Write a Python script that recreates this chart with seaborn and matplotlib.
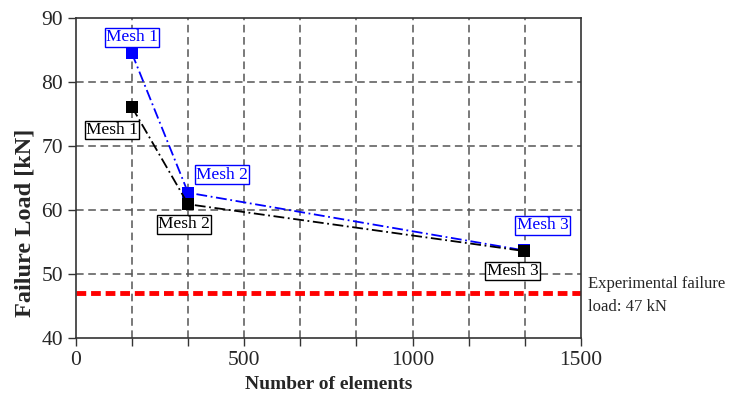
import numpy as np
import pandas as pd
import seaborn as sns
import matplotlib.pyplot as plt
from matplotlib.ticker import MultipleLocator

# data
mesh_labels = ["Mesh 1", "Mesh 2", "Mesh 3"]
n_elements = [166, 333, 1330]
load_blue = [84.5, 62.7, 53.7]
load_black = [76.1, 60.9, 53.6]
exp_load = 47

df = pd.DataFrame({
    "elements": n_elements * 2,
    "load": load_blue + load_black,
    "series": ["blue"] * 3 + ["black"] * 3,
})

sns.set_style("ticks")
plt.rcParams['font.family'] = ['Liberation Serif', 'DejaVu Serif']

fig = plt.figure(figsize=(7.38, 4.0), dpi=100)
ax = fig.add_axes([0.103, 0.155, 0.684, 0.8])

# grid first
for x in np.arange(1500 / 9, 1500, 1500 / 9):
    ax.axvline(x, color="#555555", lw=1.1, ls=(0, (5, 3)), zorder=0)
for y in [50, 60, 70, 80]:
    ax.axhline(y, color="#555555", lw=1.1, ls=(0, (5, 3)), zorder=0)

ax.axhline(exp_load, color="red", lw=3.5, ls=(0, (2, 1)), zorder=1)

sns.lineplot(data=df, x="elements", y="load", hue="series",
             palette={"blue": "blue", "black": "black"},
             marker="s", markersize=9, markeredgewidth=0,
             lw=1.3, legend=False, ax=ax)
for line in ax.lines[-2:]:
    line.set_linestyle((0, (6, 2, 1, 2)))
    line.set_zorder(3)

# boxed mesh labels, offsets in pixels from the point
blue_off = [(0, 16), (34, 18), (19, 25)]
black_off = [(-20, -23), (-4, -20), (-11, -20)]
for i, lab in enumerate(mesh_labels):
    ax.annotate(lab, (n_elements[i], load_blue[i]), xytext=blue_off[i],
                textcoords="offset pixels", ha="center", va="center",
                color="blue", fontsize=12.5,
                bbox=dict(boxstyle="square,pad=0.08", fc="white", ec="blue", lw=1))
    ax.annotate(lab, (n_elements[i], load_black[i]), xytext=black_off[i],
                textcoords="offset pixels", ha="center", va="center",
                color="black", fontsize=12.5,
                bbox=dict(boxstyle="square,pad=0.08", fc="white", ec="black", lw=1))

ax.text(1520, exp_load - 0.4, "Experimental failure\nload: 47 kN",
        fontsize=12, ha="left", va="center", linespacing=1.55)

ax.set_xlim(0, 1500)
ax.set_ylim(40, 90)
ax.xaxis.set_major_locator(MultipleLocator(500))
ax.xaxis.set_minor_locator(MultipleLocator(1500 / 9))
ax.yaxis.set_major_locator(MultipleLocator(10))
ax.tick_params(axis="both", which="both", direction="out", length=6,
               width=1, labelsize=15.5, color="#333333")
for sp in ax.spines.values():
    sp.set_color("#333333")
    sp.set_linewidth(1.2)

ax.set_xlabel("Number of elements", fontsize=14, fontweight="bold", labelpad=4)
ax.set_ylabel("Failure Load [kN]", fontsize=17.5, fontweight="bold")
ax.yaxis.set_label_coords(-0.08, 0.36)

fig.savefig("out.png", dpi=100)
